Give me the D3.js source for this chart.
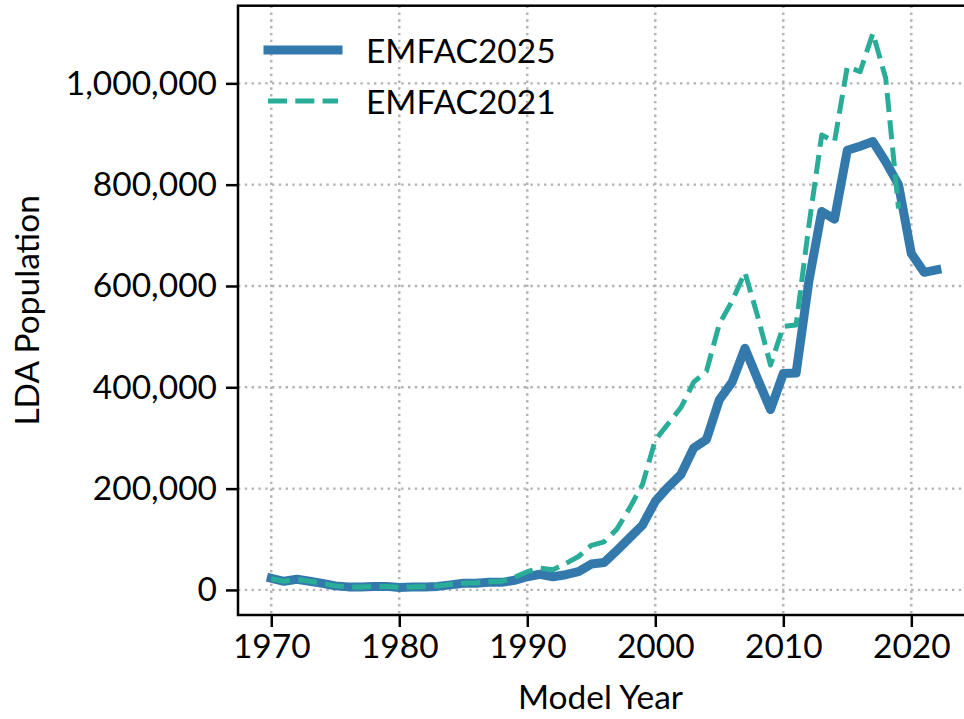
<!DOCTYPE html>
<html>
<head>
<meta charset="utf-8">
<script src="https://cdn.jsdelivr.net/npm/d3@7"></script>
<style>
  html, body { margin: 0; padding: 0; background: #fff; }
  svg { display: block; font-family: Lato, "Noto Sans", sans-serif; }
</style>
</head>
<body>
<div id="chart"></div>
<script>
// Model years and LDA population per series
const years2025 = d3.range(1970, 2023);
const emfac2025 = [
    23000, 17000, 21000, 17000, 13000, 8000, 6000, 6000, 7000, 7000,
    5000, 6000, 6000, 7000, 10000, 13000, 13000, 15000, 15000, 19000,
    26000, 31000, 26000, 30000, 36000, 51000, 54000, 78000, 103000, 128000,
    175000, 203000, 228000, 280000, 297000, 375000, 410000, 477000, 416000, 356000,
    427000, 428000, 610000, 747000, 732000, 868000, 876000, 885000, 845000, 800000,
    664000, 627000, 632000
];
const years2021 = d3.range(1970, 2020);
const emfac2021 = [
    22000, 17000, 21000, 17000, 13000, 8000, 6000, 6000, 7000, 7000,
    5000, 6000, 7000, 8000, 11000, 13000, 14000, 16000, 17000, 25000,
    36000, 43000, 40000, 52000, 66000, 88000, 95000, 120000, 162000, 208000,
    296000, 328000, 360000, 410000, 432000, 525000, 570000, 627000, 540000, 444000,
    520000, 523000, 720000, 898000, 885000, 1033000, 1023000, 1099000, 1010000, 753000
];
const xTicks = [1970, 1980, 1990, 2000, 2010, 2020];
const yTicks = [0, 200000, 400000, 600000, 800000, 1000000];
const seriesNames = ['EMFAC2025', 'EMFAC2021'];

const width = 964;
const height = 719;
const plot = { left: 238, right: 970.2, top: 5.7, bottom: 615 };
const fontSize = '33.5px';

const blue = '#3379ac';
const teal = '#2aad98';

const svg = d3.select('#chart').append('svg')
    .attr('width', width)
    .attr('height', height);

const x = d3.scaleLinear()
    .domain([1967.4, 2024.6])
    .range([plot.left, plot.right]);

const y = d3.scaleLinear()
    .domain([-49500, 1153300])
    .range([plot.bottom, plot.top]);

svg.append('clipPath')
    .attr('id', 'plot-clip')
    .append('rect')
    .attr('x', plot.left)
    .attr('y', plot.top)
    .attr('width', plot.right - plot.left)
    .attr('height', plot.bottom - plot.top);

// Dotted grid
const grid = svg.append('g')
    .attr('stroke', '#b3b3b3')
    .attr('stroke-width', 2.4)
    .attr('stroke-dasharray', '2.4,4.4');

grid.selectAll('.gx')
    .data(xTicks)
    .join('line')
    .attr('x1', d => x(d))
    .attr('x2', d => x(d))
    .attr('y1', plot.top)
    .attr('y2', plot.bottom);

grid.selectAll('.gy')
    .data(yTicks)
    .join('line')
    .attr('x1', plot.left)
    .attr('x2', plot.right)
    .attr('y1', d => y(d))
    .attr('y2', d => y(d));

// Lines
const line = d3.line()
    .x(d => x(d[0]))
    .y(d => y(d[1]));

const lines = svg.append('g').attr('clip-path', 'url(#plot-clip)');

lines.append('path')
    .datum(years2025.map((yr, i) => [yr, emfac2025[i]]))
    .attr('d', line)
    .attr('fill', 'none')
    .attr('stroke', blue)
    .attr('stroke-width', 9)
    .attr('stroke-linejoin', 'round')
    .attr('stroke-linecap', 'square');

lines.append('path')
    .datum(years2021.map((yr, i) => [yr, emfac2021[i]]))
    .attr('d', line)
    .attr('fill', 'none')
    .attr('stroke', teal)
    .attr('stroke-width', 5)
    .attr('stroke-dasharray', '19,8.3')
    .attr('stroke-linejoin', 'round');

// Axes
const xAxis = svg.append('g')
    .attr('transform', `translate(0,${plot.bottom})`)
    .call(d3.axisBottom(x).tickValues(xTicks).tickFormat(d3.format('d')).tickSize(12).tickPadding(7));

const yAxis = svg.append('g')
    .attr('transform', `translate(${plot.left},0)`)
    .call(d3.axisLeft(y).tickValues(yTicks).tickFormat(d3.format(',')).tickSize(12).tickPadding(9));

[xAxis, yAxis].forEach(a => {
    a.select('.domain').remove();
    a.selectAll('.tick line').attr('stroke', '#000').attr('stroke-width', 2.5);
    a.selectAll('.tick text')
        .attr('fill', '#000')
        .style('font-size', fontSize)
        .style('font-family', 'Lato, "Noto Sans", sans-serif');
});

// Frame
svg.append('rect')
    .attr('x', plot.left)
    .attr('y', plot.top)
    .attr('width', plot.right - plot.left)
    .attr('height', plot.bottom - plot.top)
    .attr('fill', 'none')
    .attr('stroke', '#000')
    .attr('stroke-width', 2.5);

// Axis labels
svg.append('text')
    .attr('x', (plot.left + 963) / 2)
    .attr('y', 709)
    .attr('text-anchor', 'middle')
    .style('font-size', fontSize)
    .text('Model Year');

svg.append('text')
    .attr('transform', `translate(39,${(plot.top + plot.bottom) / 2}) rotate(-90)`)
    .attr('text-anchor', 'middle')
    .style('font-size', fontSize)
    .text('LDA Population');

// Legend
const legend = svg.append('g');
const legendY = [50, 101];

legend.append('line')
    .attr('x1', 268).attr('x2', 338)
    .attr('y1', legendY[0]).attr('y2', legendY[0])
    .attr('stroke', blue)
    .attr('stroke-width', 9)
    .attr('stroke-linecap', 'square');

legend.append('line')
    .attr('x1', 268).attr('x2', 338)
    .attr('y1', legendY[1]).attr('y2', legendY[1])
    .attr('stroke', teal)
    .attr('stroke-width', 5)
    .attr('stroke-dasharray', '19,8.3');

legend.selectAll('text')
    .data(seriesNames)
    .join('text')
    .attr('x', 366)
    .attr('y', (d, i) => legendY[i] + 12.5)
    .style('font-size', fontSize)
    .text(d => d);
</script>
</body>
</html>
